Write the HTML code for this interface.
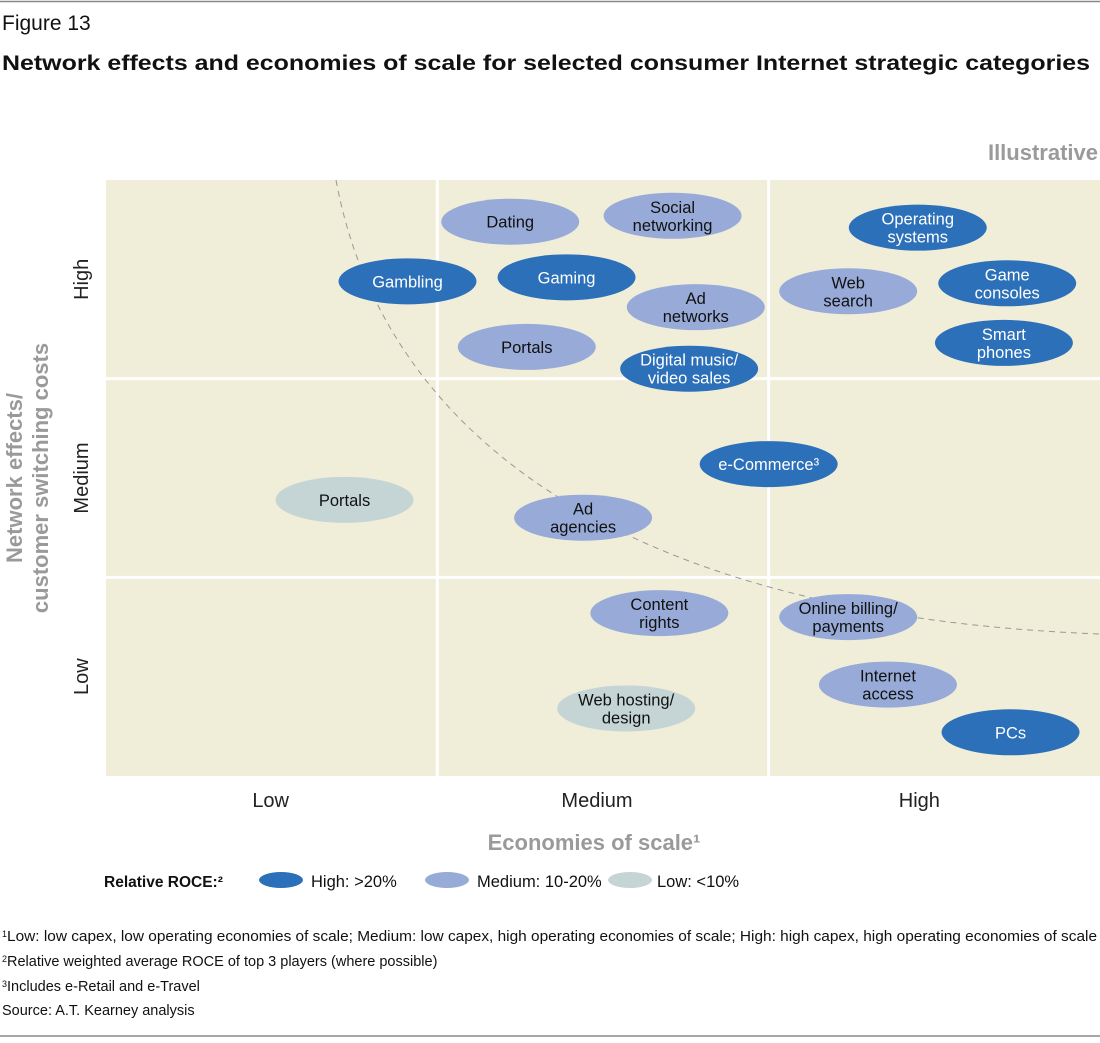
<!DOCTYPE html>
<html><head><meta charset="utf-8"><style>
body{margin:0;background:#fff;font-family:"Liberation Sans",sans-serif}
svg text{font-family:"Liberation Sans",sans-serif}
</style></head><body>
<svg id="c" width="1100" height="1038" viewBox="0 0 1100 1038">
<line x1="0" y1="1.5" x2="1100" y2="1.5" stroke="#888" stroke-width="1.5"/>
<text x="2" y="30" font-size="21" fill="#111">Figure 13</text>
<text x="2" y="70" font-size="21" font-weight="bold" fill="#111" textLength="1088" lengthAdjust="spacingAndGlyphs">Network effects and economies of scale for selected consumer Internet strategic categories</text>
<text x="1098" y="160" font-size="22" font-weight="bold" fill="#9a9a9a" text-anchor="end">Illustrative</text>
<rect x="106" y="180" width="994" height="596" fill="#f0edd8"/>
<g id="grid"></g>
<path d="M336,180 C380,420 600,615 1100,634" fill="none" stroke="#999" stroke-width="1" stroke-dasharray="6,5"/>
<g id="bubbles"></g>
<g id="ticks"></g>
<text x="594" y="850" font-size="22" font-weight="bold" fill="#9a9a9a" text-anchor="middle">Economies of scale¹</text>
<text transform="translate(22,478) rotate(-90)" font-size="22" font-weight="bold" fill="#9a9a9a" text-anchor="middle"><tspan x="0" dy="0">Network effects/</tspan><tspan x="0" dy="26">customer switching costs</tspan></text>
<g>
<text x="104" y="887" font-size="15.5" font-weight="bold" fill="#111">Relative ROCE:²</text>
<ellipse cx="281" cy="880" rx="22" ry="8" fill="#2b70b8"/>
<text x="311" y="887" font-size="16.5" fill="#111">High: &gt;20%</text>
<ellipse cx="447" cy="880" rx="22" ry="8" fill="#97aad8"/>
<text x="477" y="887" font-size="16.5" fill="#111">Medium: 10-20%</text>
<ellipse cx="630" cy="880" rx="22" ry="8" fill="#c5d5d5"/>
<text x="657" y="887" font-size="16.5" fill="#111">Low: &lt;10%</text>
</g>
<g font-size="14.5" fill="#111">
<text x="2" y="941"><tspan font-size="9" dy="-4">1</tspan><tspan dy="4" textLength="1090" lengthAdjust="spacingAndGlyphs">Low: low capex, low operating economies of scale; Medium: low capex, high operating economies of scale; High: high capex, high operating economies of scale</tspan></text>
<text x="2" y="966"><tspan font-size="9" dy="-4">2</tspan><tspan dy="4">Relative weighted average ROCE of top 3 players (where possible)</tspan></text>
<text x="2" y="991"><tspan font-size="9" dy="-4">3</tspan><tspan dy="4">Includes e-Retail and e-Travel</tspan></text>
<text x="2" y="1015">Source: A.T. Kearney analysis</text>
</g>
<line x1="0" y1="1036" x2="1100" y2="1036" stroke="#888" stroke-width="1.5"/>
</svg>
<script>
const categories=["Low","Medium","High"];
const labels=[["Dating"],["Social","networking"],["Operating","systems"],["Gambling"],["Gaming"],["Ad","networks"],["Web","search"],["Game","consoles"],["Smart","phones"],["Portals"],["Digital music/","video sales"],["e-Commerce³"],["Portals"],["Ad","agencies"],["Content","rights"],["Online billing/","payments"],["Internet","access"],["Web hosting/","design"],["PCs"]];
const xValues=[1.22,1.71,2.45,0.91,1.39,1.78,2.24,2.72,2.71,1.27,1.76,2.00,0.72,1.44,1.67,2.24,2.36,1.57,2.73];
const yValues=[2.79,2.82,2.76,2.49,2.51,2.36,2.44,2.48,2.18,2.16,2.05,1.57,1.39,1.30,0.82,0.80,0.46,0.34,0.22];
const roce=["M","M","H","H","H","M","M","H","H","M","H","H","L","M","M","M","M","L","H"];
const NS="http://www.w3.org/2000/svg";
const X0=106,X1=1100,Y0=776,Y1=180;
const xs=v=>X0+v*(X1-X0)/3, ys=v=>Y0-v*(Y0-Y1)/3;
const fills={H:"#2b70b8",M:"#97aad8",L:"#c5d5d5"};
function mk(t,a,p){const e=document.createElementNS(NS,t);for(const k in a)e.setAttribute(k,a[k]);p.appendChild(e);return e;}
function XOFF(i){return [1,6,15][i];}
const grid=document.getElementById("grid");
for(let i=1;i<3;i++){
 const v=mk("line",{x1:xs(i),x2:xs(i),y1:Y1,y2:Y0,stroke:"#fff","stroke-width":3},grid);
 
 
 const h=mk("line",{x1:X0,x2:X1,y1:ys(i),y2:ys(i),stroke:"#fff","stroke-width":3},grid);
 
 
}
const ticks=document.getElementById("ticks");
categories.forEach((c,i)=>{
 const t=mk("text",{x:xs(i+0.5)-XOFF(i),y:807,"font-size":20,fill:"#222","text-anchor":"middle"},ticks);
 t.textContent=c;
 
 
 const y=mk("text",{transform:`translate(88,${ys(i+0.5)}) rotate(-90)`,"font-size":20,fill:"#222","text-anchor":"middle"},ticks);
 y.textContent=c;
 
 
});
const bg=document.getElementById("bubbles");
labels.forEach((lab,i)=>{
 const cx=xs(xValues[i]),cy=ys(yValues[i]);
 const g=mk("g",{},bg);
 
 
 mk("ellipse",{cx:cx,cy:cy,rx:69,ry:23,fill:fills[roce[i]]},g);
 const t=mk("text",{x:cx,y:cy+(lab.length==1?6:-3),"font-size":16.5,fill:roce[i]=="H"?"#fff":"#111","text-anchor":"middle"},g);
 lab.forEach((l,j)=>{const s=mk("tspan",{x:cx,dy:j?18:0},t);s.textContent=l;});
});
</script>
</body></html>
